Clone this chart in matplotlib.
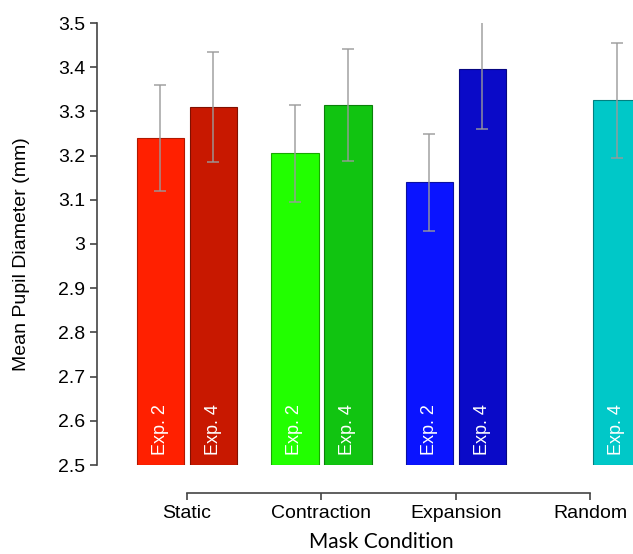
import matplotlib.pyplot as plt
from matplotlib.ticker import FormatStrFormatter

# values
conditions = ["Static", "Contraction", "Expansion", "Random"]
exp2_means = [3.24, 3.205, 3.14, None]
exp2_errs = [0.12, 0.11, 0.11, None]
exp4_means = [3.31, 3.315, 3.395, 3.325]
exp4_errs = [0.125, 0.127, 0.135, 0.13]

exp2_colors = ["#ff2000", "#22ff00", "#0a14ff", None]
exp4_colors = ["#c81800", "#11c411", "#0a0ac8", "#00c8c8"]
exp2_edges = ["#b01800", "#18a800", "#0a10a0", None]
exp4_edges = ["#801000", "#0a800a", "#060680", "#008080"]


def plot_pupil():
    fig = plt.figure(figsize=(6.33, 5.54), dpi=100)
    ax = fig.add_axes([97 / 633, 89 / 554, 536 / 633, 442 / 554])
    font = ["Liberation Sans", "DejaVu Sans"]

    width = 0.35
    offset = 0.197
    groups = [(exp2_means, exp2_errs, exp2_colors, exp2_edges, -offset, "Exp. 2"),
              (exp4_means, exp4_errs, exp4_colors, exp4_edges, offset, "Exp. 4")]
    for means, errs, colors, edges, off, label in groups:
        for i, m in enumerate(means):
            if m is None:
                continue
            x = i + off
            ax.bar(x, m - 2.5, width, bottom=2.5, color=colors[i],
                   edgecolor=edges[i], linewidth=0.8, zorder=2)
            ax.errorbar(x, m, yerr=errs[i], fmt="none", ecolor="#9a9a9a",
                        elinewidth=1.2, capsize=4, capthick=1.2, alpha=0.85,
                        zorder=3)
            ax.text(x, 2.522, label, rotation=90, ha="center", va="bottom",
                    color="white", fontsize=13, family=font, zorder=4)

    ax.set_xlim(-0.669, 3.316)
    ax.set_ylim(2.5, 3.5)
    ax.set_yticks([2.5 + 0.1 * k for k in range(11)])
    ax.yaxis.set_major_formatter(FormatStrFormatter("%g"))

    for side in ["top", "right"]:
        ax.spines[side].set_visible(False)
    ax.spines["left"].set_color("#444444")
    ax.spines["left"].set_linewidth(1.2)
    ax.spines["bottom"].set_position(("outward", 20))
    ax.spines["bottom"].set_bounds(0, 3)
    ax.spines["bottom"].set_color("#444444")
    ax.spines["bottom"].set_linewidth(1.2)

    ax.set_xticks(range(len(conditions)))
    ax.set_xticklabels(conditions, family=font, fontsize=14)
    ax.tick_params(axis="both", colors="#444444", width=1.2, length=5,
                   labelcolor="black", labelsize=14)
    for lbl in ax.get_yticklabels():
        lbl.set_family(font)

    ax.set_xlabel("Mask Condition", family=["Lato", "DejaVu Sans"], fontsize=15)
    ax.xaxis.set_label_coords(0.53, -0.152)
    ax.set_ylabel("Mean Pupil Diameter (mm)", family=font, fontsize=14)
    ax.yaxis.set_label_coords(-0.125, 0.477)

    fig.savefig("out.png", dpi=100)
    plt.close(fig)


if __name__ == "__main__":
    plot_pupil()
